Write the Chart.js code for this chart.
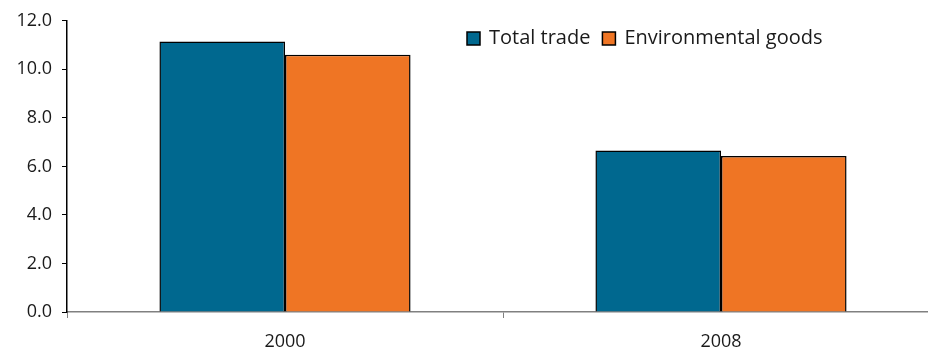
<!DOCTYPE html>
<html>
<head>
<meta charset="utf-8">
<script src="https://cdn.jsdelivr.net/npm/chart.js@4"></script>
<style>
	body { margin: 0; overflow: hidden; background: #fff; }
	#wrap { width: 940px; height: 349px; position: relative; }
</style>
</head>
<body>
<div id="wrap"><canvas id="chart-trade"></canvas></div>
<script>
var years = ['2000', '2008'];
var totalTrade = [11.15, 6.66];
var envGoods = [10.6, 6.43];
var yTicks = [0, 2, 4, 6, 8, 10, 12];

var FONT = '"Open Sans", "DejaVu Sans", sans-serif';

// legend drawn inside the plot, top right
var legendPlugin = {
	id: 'insideLegend',
	afterDraw: function(chart) {
		var ctx = chart.ctx;
		var x = 467, y = 38.5;
		ctx.save();
		ctx.font = '20px ' + FONT;
		ctx.textBaseline = 'middle';
		chart.data.datasets.forEach(function(ds) {
			ctx.fillStyle = ds.backgroundColor;
			ctx.fillRect(x, y - 6.5, 13, 13);
			ctx.lineWidth = 1.5;
			ctx.strokeStyle = '#000';
			ctx.strokeRect(x, y - 6.5, 13, 13);
			ctx.fillStyle = '#1a1a1a';
			ctx.fillText(ds.label, x + 22, y);
			x += 22 + ctx.measureText(ds.label).width + 12;
		});
		ctx.restore();
	}
};

var ctx = document.getElementById('chart-trade').getContext('2d');
var chart = new Chart(ctx, {
	type: 'bar',
	data: {
		labels: years,
		datasets: [{
			label: 'Total trade',
			backgroundColor: '#00688f',
			borderColor: '#000',
			borderWidth: 1.5,
			data: totalTrade
		}, {
			label: 'Environmental goods',
			backgroundColor: '#ef7524',
			borderColor: '#000',
			borderWidth: 1.5,
			data: envGoods
		}]
	},
	options: {
		responsive: true,
		maintainAspectRatio: false,
		animation: false,
		layout: { padding: { top: 20, right: 1, left: 0, bottom: 0 } },
		datasets: { bar: { barPercentage: 1, categoryPercentage: 0.576 } },
		plugins: {
			legend: { display: false },
			tooltip: { enabled: false }
		},
		scales: {
			x: {
				afterFit: function(s) { s.height = 37; },
				border: { color: '#808080', width: 1.5 },
				grid: { drawOnChartArea: false, tickLength: 6, tickColor: '#808080', tickWidth: 1 },
				ticks: { color: '#1a1a1a', font: { family: FONT, size: 18 }, padding: 13 }
			},
			y: {
				min: 0,
				max: 12,
				afterFit: function(s) { s.width = 67; },
				afterBuildTicks: function(s) { s.ticks = yTicks.map(function(v) { return { value: v }; }); },
				border: { color: '#000', width: 1.5 },
				grid: { drawOnChartArea: false, tickLength: 5, tickColor: '#000', tickWidth: 1 },
				ticks: {
					color: '#1a1a1a',
					font: { family: FONT, size: 18 },
					padding: 10,
					callback: function(v) { return v.toFixed(1); }
				}
			}
		}
	},
	plugins: [legendPlugin]
});
</script>
</body>
</html>
